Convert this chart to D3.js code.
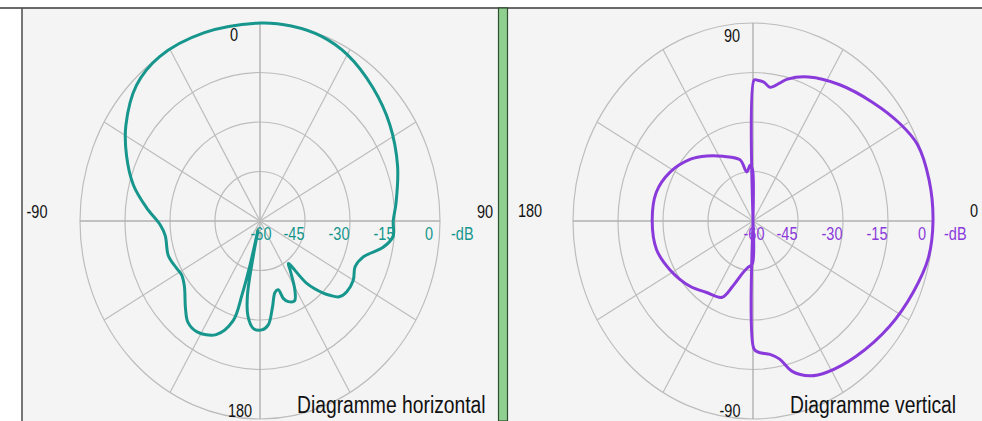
<!DOCTYPE html>
<html>
<head>
<meta charset="utf-8">
<script src="https://cdn.jsdelivr.net/npm/d3@7"></script>
<style>
  html, body { margin: 0; padding: 0; background: #fff; }
  svg { display: block; }
  text { font-family: "Liberation Sans", Arial, sans-serif; }
</style>
</head>
<body>
<script>
/**
 * DATA
 */
// Horizontal diagram: angle in degrees, clockwise from top (0 = front)
const hAngles = [0, 10, 20, 30, 43, 56, 70, 83, 90, 96, 101, 107.5, 113.6, 120, 126.5, 131, 134, 136, 140.5, 143.7,
  146, 151, 154.5, 158.9, 161.7, 163.7, 167, 171, 175, 179, 184, 188, 190.5, 192, 193, 194, 195, 196.5,
  203, 212, 218, 223, 232, 238, 243, 251, 262, 268, 276, 284.5, 294, 303, 315, 326, 342];
const hValues = [0, 0, -0.4, -1.8, -4.8, -7.8, -11.2, -14.3, -15.6, -15.4, -18.2, -23.9, -25.4, -24.1, -24, -25, -27.6, -29.6, -35.5, -44,
  -42, -36, -33.2, -33.8, -35.3, -38.3, -37.8, -33.5, -28.4, -27, -27.4, -31, -37, -50, -57, -46, -37, -28.5,
  -22.6, -20.4, -21, -23.6, -28, -29.2, -28.7, -27.7, -28.1, -26.7, -22, -16.4, -11.3, -6.7, -1.8, 0, 0];

// Vertical diagram: elevation in degrees, counter-clockwise from right (0 = horizon)
const vAngles = [0, 12, 23, 31, 42, 55, 67, 75, 78, 82, 85, 88, 89.5, 90, 90.5, 93, 98, 103, 117, 128, 138, 152, 165,
  180, 195, 208, 223, 234, 246, 251, 258, 263, 269, 270, 270.5, 273, 278, 282, 286, 292, 298, 310, 325, 338, 349];
const vValues = [0, 0, -0.5, -2.8, -6.3, -9.6, -12.6, -15.5, -17.3, -19.1, -17.8, -17.3, -17.3, -60, -44.5, -43, -45, -41, -38, -35, -32, -28.6, -26.6,
  -26.4, -26.7, -28.6, -31.1, -33.3, -34.7, -39, -44, -45.8, -47, -60, -21.2, -20.1, -19.2, -17.2, -12.6, -9.4, -8, -6.5, -4.4, -2.4, -0.5];

const ringValues = [-45, -30, -15, 0];
const ringLabels = ["-60", "-45", "-30", "-15", "0"];
const hAngleLabels = ["0", "90", "180", "-90"];
const vAngleLabels = ["90", "0", "-90", "180"];
const titles = ["Diagramme horizontal", "Diagramme vertical"];

/**
 * CONSTANTS
 */
const WIDTH = 982;
const HEIGHT = 421;
const R = 180;
const KY = 1.1; // the picture is stretched a little vertically
const TEAL = "#16968c";
const PURPLE = "#8a3adb";
const GRID = "#bdbdbd";

const r = d3.scaleLinear().domain([-60, 0]).range([0, R]).clamp(true);

const svg = d3.select("body").append("svg")
  .attr("width", WIDTH)
  .attr("height", HEIGHT);

// panel backgrounds and frame
svg.append("rect").attr("x", 22).attr("y", 8).attr("width", 476).attr("height", HEIGHT - 8).attr("fill", "#f4f4f4");
svg.append("rect").attr("x", 508).attr("y", 8).attr("width", WIDTH - 508).attr("height", HEIGHT - 8).attr("fill", "#f4f4f4");
svg.append("line").attr("x1", 0).attr("x2", WIDTH).attr("y1", 8).attr("y2", 8)
  .attr("stroke", "#3a3a3a").attr("stroke-width", 1.6);
svg.append("line").attr("x1", 22).attr("x2", 22).attr("y1", 8).attr("y2", HEIGHT)
  .attr("stroke", "#555").attr("stroke-width", 1.6);
svg.append("rect").attr("x", 498.5).attr("y", 8).attr("width", 9).attr("height", HEIGHT - 8)
  .attr("fill", "#8fcf8f").attr("stroke", "#2f4f2f").attr("stroke-width", 1.2);

// text helper: the original font is narrow and tall
const label = (g, str, x, y, opts = {}) =>
  g.append("text")
    .attr("transform", `translate(${x},${y}) scale(1,${opts.sy || 1.22})`)
    .attr("text-anchor", opts.anchor || "middle")
    .attr("font-size", opts.size || 14.5)
    .attr("fill", opts.color || "#111")
    .text(str);

const drawPolar = ({ cx, cy, angles, values, toAngle, color, angleLabels, labelPos, title }) => {
  const g = svg.append("g");
  const plot = g.append("g").attr("transform", `translate(${cx},${cy}) scale(1,${KY})`);

  // rings
  plot.selectAll("circle.ring")
    .data(ringValues)
    .join("circle")
    .attr("class", "ring")
    .attr("r", (d) => r(d))
    .attr("fill", "none")
    .attr("stroke", GRID)
    .attr("stroke-width", 1.2)
    .attr("vector-effect", "non-scaling-stroke");

  // spokes every 30 degrees
  plot.selectAll("line.spoke")
    .data(d3.range(0, 360, 30))
    .join("line")
    .attr("class", "spoke")
    .attr("x1", 0).attr("y1", 0)
    .attr("x2", (d) => R * Math.sin((d * Math.PI) / 180))
    .attr("y2", (d) => -R * Math.cos((d * Math.PI) / 180))
    .attr("stroke", (d) => (d % 90 === 0 ? "#b0b0b0" : GRID))
    .attr("stroke-width", (d) => (d % 90 === 0 ? 1.4 : 1.2))
    .attr("vector-effect", "non-scaling-stroke");

  // pattern
  const pts = angles.map((a, i) => [toAngle(a), values[i]]);
  const line = d3.lineRadial()
    .angle((d) => (d[0] * Math.PI) / 180)
    .radius((d) => r(d[1]))
    .curve(d3.curveCatmullRomClosed.alpha(0.5));
  plot.append("path")
    .attr("d", line(pts))
    .attr("fill", "none")
    .attr("stroke", color)
    .attr("stroke-width", 3)
    .attr("stroke-linejoin", "round")
    .attr("vector-effect", "non-scaling-stroke");

  // dB labels along the horizontal axis
  const ringAt = [-60, ...ringValues];
  ringAt.forEach((v, i) => {
    const x = i === 0 ? cx + 1 : cx + r(v) - 11;
    label(g, ringLabels[i], x, cy + 19, { color });
  });
  label(g, "-dB", cx + R + 11, cy + 19, { color, anchor: "start" });

  // angle labels
  angleLabels.forEach((t, i) => {
    const p = labelPos[i];
    label(g, t, cx + p[0], p[1], { anchor: p[2] || "middle" });
  });

  label(g, title, cx + 37, 413, { size: 19.3, sy: 1.25, anchor: "start" });
};

drawPolar({
  cx: 260, cy: 221,
  angles: hAngles, values: hValues,
  toAngle: (a) => a,
  color: TEAL,
  angleLabels: hAngleLabels,
  labelPos: [[-26, 41], [225, 218], [-20, 417], [-223, 218]],
  title: titles[0],
});

drawPolar({
  cx: 753, cy: 221,
  angles: vAngles, values: vValues,
  toAngle: (a) => 90 - a,
  color: PURPLE,
  angleLabels: vAngleLabels,
  labelPos: [[-21, 42], [221, 217], [-23, 417], [-223, 217]],
  title: titles[1],
});
</script>
</body>
</html>
